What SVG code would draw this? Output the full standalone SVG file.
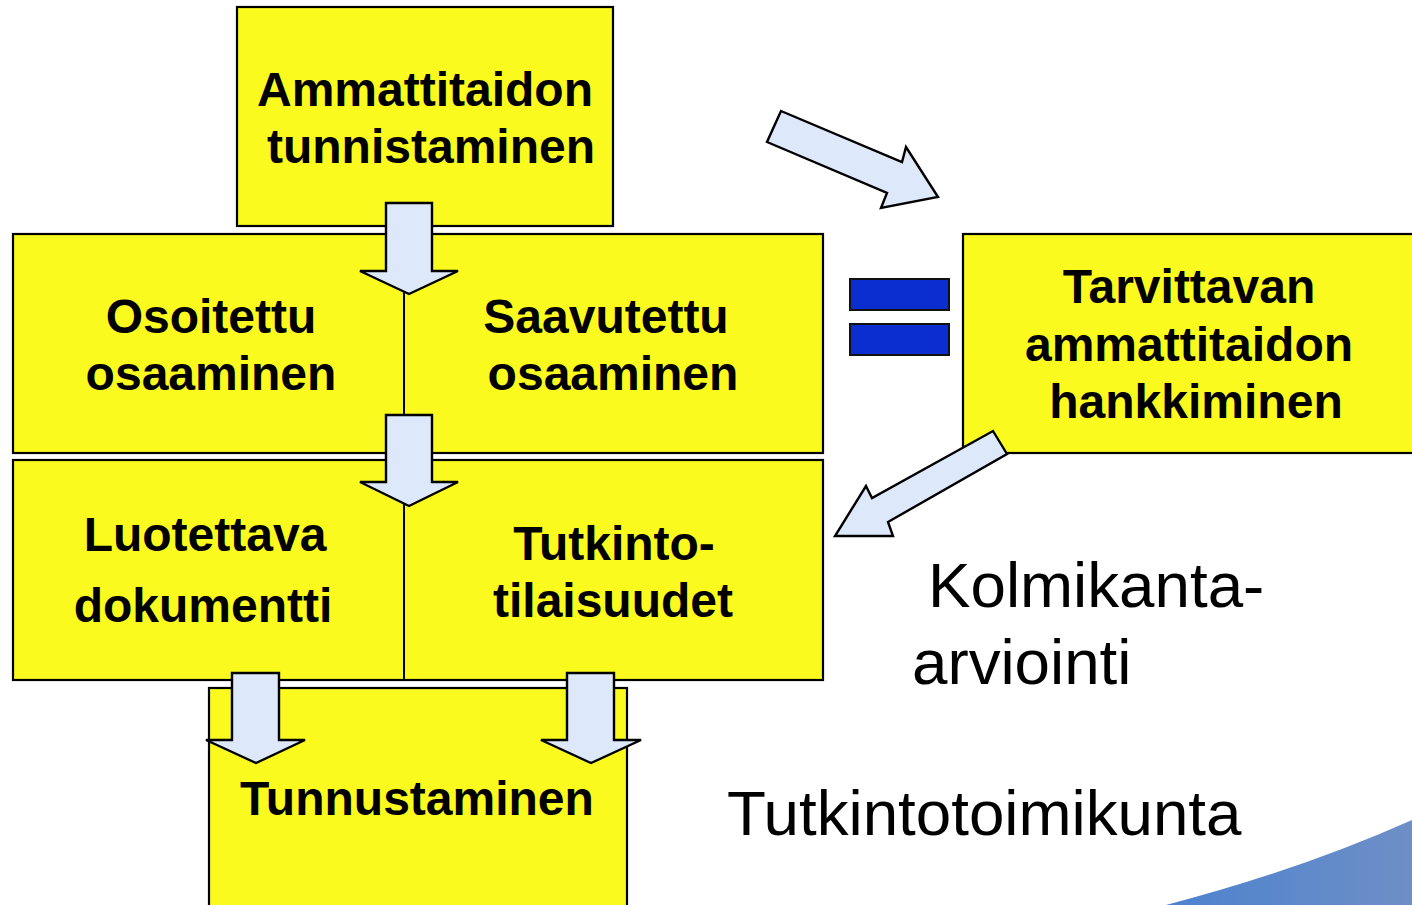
<svg xmlns="http://www.w3.org/2000/svg" width="1412" height="905" viewBox="0 0 1412 905">
<defs>
<style>
.box{fill:#FAFA1E;stroke:#000;stroke-width:2.2}
.div{stroke:#000;stroke-width:2;fill:none}
.arr{fill:#DDE8FA;stroke:#000;stroke-width:2.4;stroke-linejoin:miter}
.eq{fill:#0A2ED0;stroke:#111;stroke-width:2}
.b{font-family:"Liberation Sans",Arial,sans-serif;font-weight:bold;font-size:48px;fill:#000;text-anchor:middle}
.r{font-family:"Liberation Sans",Arial,sans-serif;font-size:63.7px;fill:#000}
</style>
<linearGradient id="sw" x1="0" y1="0" x2="1" y2="0">
<stop offset="0" stop-color="#4C82CF"/>
<stop offset="1" stop-color="#6E8FC6"/>
</linearGradient>
</defs>
<rect width="1412" height="905" fill="#fff"/>
<path d="M1166 905 Q1300 870 1412 820 L1412 905 Z" fill="url(#sw)"/>
<g id="n-top">
<rect class="box" x="237" y="7" width="376" height="219"/>
<text class="b" x="425" y="106">Ammattitaidon</text>
<text class="b" x="431" y="163">tunnistaminen</text>
</g>
<g id="n-row2">
<rect class="box" x="13" y="234" width="810" height="219"/>
<line class="div" x1="404" y1="234" x2="404" y2="453"/>
<text class="b" x="211" y="333">Osoitettu</text>
<text class="b" x="211" y="390">osaaminen</text>
<text class="b" x="606" y="333">Saavutettu</text>
<text class="b" x="613" y="390">osaaminen</text>
</g>
<g id="n-right">
<rect class="box" x="963" y="234" width="460" height="219"/>
<text class="b" x="1189" y="303">Tarvittavan</text>
<text class="b" x="1189" y="361">ammattitaidon</text>
<text class="b" x="1196" y="418">hankkiminen</text>
</g>
<g id="n-row3">
<rect class="box" x="13" y="460" width="810" height="220"/>
<line class="div" x1="404" y1="460" x2="404" y2="680"/>
<text class="b" x="205" y="551">Luotettava</text>
<text class="b" x="203" y="622">dokumentti</text>
<text class="b" x="614" y="560">Tutkinto-</text>
<text class="b" x="613" y="617">tilaisuudet</text>
</g>
<g id="n-bottom">
<rect class="box" x="209" y="688" width="418" height="230"/>
<text class="b" x="417" y="815">Tunnustaminen</text>
</g>
<g id="equals">
<rect class="eq" x="850" y="279" width="99" height="31"/>
<rect class="eq" x="850" y="324" width="99" height="31"/>
</g>
<g id="connectors">
<polygon class="arr" points="386,203 432,203 432,271 458,271 409,294 360,271 386,271"/>
<polygon class="arr" points="386,415 432,415 432,482 458,482 409,506 360,482 386,482"/>
<polygon class="arr" points="232,673 279,673 279,740 305,740 256,763 206,740 232,740"/>
<polygon class="arr" points="567,673 614,673 614,740 641,740 591,763 541,740 567,740"/>
<polygon class="arr" points="781,111 902,162 906,147 938,197 881,208 887,193 767,142"/>
<polygon class="arr" points="993,431 1007,454 888,522 893,536 835,536 866,486 872,498"/>
</g>
<g id="labels">
<text class="r" x="928" y="607">Kolmikanta-</text>
<text class="r" x="912" y="684">arviointi</text>
<text class="r" x="727" y="835">Tutkintotoimikunta</text>
</g>
</svg>
